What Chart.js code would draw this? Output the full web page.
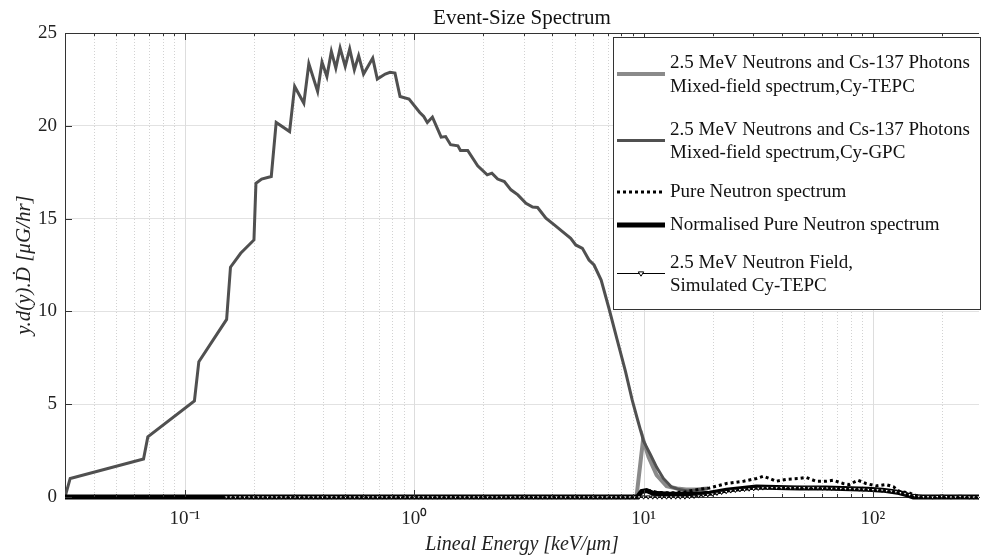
<!DOCTYPE html>
<html>
<head>
<meta charset="utf-8">
<script src="https://cdn.jsdelivr.net/npm/chart.js@4.4.1/dist/chart.umd.min.js"></script>
<style>
  html, body { margin: 0; padding: 0; background: #fff; }
  #wrap { width: 984px; height: 560px; }
</style>
</head>
<body>
<div id="wrap"><canvas id="spectrum"></canvas></div>
<script>
// values: lineal energy in keV/um, y.d(y).D in uG/hr

// mixed field, Cy-GPC (dark grey)
const gpcE = [0.03, 0.0316, 0.066, 0.0689, 0.110, 0.115, 0.152, 0.158, 0.175, 0.200,
  0.204, 0.216, 0.238, 0.250, 0.286, 0.301, 0.330, 0.347, 0.379, 0.396,
  0.416, 0.435, 0.455, 0.475, 0.500, 0.523, 0.548, 0.572, 0.601, 0.659,
  0.690, 0.747, 0.784, 0.824, 0.867, 0.949, 1.057, 1.10, 1.14, 1.20,
  1.31, 1.37, 1.44, 1.55, 1.59, 1.71, 1.89, 2.08, 2.18, 2.31,
  2.47, 2.64, 2.83, 3.07, 3.28, 3.45, 3.75, 4.08, 4.43, 4.81,
  5.06, 5.41, 5.78, 6.08, 6.53, 7.06, 7.67, 8.34, 8.92, 9.38,
  10.0, 10.7, 11.4, 12.2, 13.2, 14.3, 15.5, 17.0, 19.0];
const gpcY = [0, 1.0, 2.05, 3.24, 5.18, 7.29, 9.57, 12.38, 13.13, 13.85,
  16.9, 17.13, 17.27, 20.18, 19.69, 22.12, 21.22, 23.34, 21.85, 23.43,
  22.66, 24.01, 23.11, 24.19, 23.20, 24.14, 23.02, 23.78, 22.79, 23.65,
  22.52, 22.79, 22.88, 22.84, 21.58, 21.44, 20.72, 20.5, 20.18, 20.47,
  19.39, 19.42, 18.98, 18.92, 18.67, 18.67, 17.84, 17.36, 17.45, 17.13,
  17.0, 16.55, 16.28, 15.83, 15.62, 15.6, 15.02, 14.66, 14.3, 13.94,
  13.58, 13.40, 12.77, 12.5, 11.69, 10.17, 8.46, 6.75, 5.22, 4.23,
  3.0, 2.3, 1.6, 1.0, 0.55, 0.40, 0.33, 0.38, 0.46];

// mixed field, Cy-TEPC (light grey)
const tepcE = [9.0, 9.31, 9.95, 10.5, 11.4, 12.6, 14.0, 15.3, 17.0, 19.0];
const tepcY = [0, 0, 3.1, 2.16, 1.18, 0.58, 0.46, 0.40, 0.40, 0.46];

// pure neutron spectrum (dotted)
const pureE = [9.0, 9.5, 9.8, 10.5, 11.5, 13.0, 15.0, 16.6, 19.4, 23.0,
  27.3, 31.1, 33.3, 35.4, 37.9, 41.9, 47.7, 51.2, 56.5, 62.5,
  67.0, 74.1, 78.7, 86.1, 93.2, 103, 114, 123, 130, 143,
  154, 170, 290];
const pureY = [0, 0, 0.3, 0.35, 0.25, 0.22, 0.26, 0.37, 0.49, 0.73,
  0.85, 1.0, 1.12, 1.0, 0.85, 0.95, 1.0, 1.05, 0.85, 0.85,
  0.9, 0.73, 0.67, 0.9, 0.73, 0.6, 0.67, 0.55, 0.31, 0.23,
  0.08, 0, 0];

// normalised pure neutron spectrum (thick black)
const normE = [0.03, 9.4, 9.8, 10.3, 11.0, 13.0, 16.6, 19.4, 23.0, 31.0,
  42.0, 48.0, 62.0, 80.0, 95.0, 110, 130, 140, 150, 290];
const normY = [0, 0, 0.3, 0.35, 0.2, 0.15, 0.15, 0.2, 0.37, 0.54,
  0.5, 0.49, 0.49, 0.45, 0.42, 0.37, 0.24, 0.13, 0, 0];

// simulated Cy-TEPC: 50 log bins per decade, flat at 0 below the hump
const simDecades = [0.1, 1, 10, 100];
const binMantissa = [1.000, 1.047, 1.096, 1.148, 1.202, 1.259, 1.318, 1.380, 1.445, 1.514,
  1.585, 1.660, 1.738, 1.820, 1.905, 1.995, 2.089, 2.188, 2.291, 2.399,
  2.512, 2.630, 2.754, 2.884, 3.020, 3.162, 3.311, 3.467, 3.631, 3.802,
  3.981, 4.169, 4.365, 4.571, 4.786, 5.012, 5.248, 5.495, 5.754, 6.026,
  6.310, 6.607, 6.918, 7.244, 7.586, 7.943, 8.318, 8.710, 9.120, 9.550];
const simRange = [0.15, 300];
const simHumpY = [0.02, 0.04, 0.06, 0.09, 0.12, 0.16, 0.2, 0.25, 0.29, 0.33,
  0.36, 0.39, 0.41, 0.43, 0.45, 0.47, 0.49, 0.5, 0.51, 0.5,
  0.5, 0.51, 0.5, 0.5, 0.51, 0.5, 0.49, 0.5, 0.49, 0.48,
  0.48, 0.47, 0.47, 0.46, 0.45, 0.45, 0.44, 0.43, 0.42, 0.41,
  0.4, 0.39, 0.37, 0.35, 0.32, 0.28, 0.24, 0.19, 0.13, 0.08,
  0.04, 0.02, 0.01, 0, 0.02, 0.04, 0.02, 0, 0.01, 0.03,
  0.01, 0, 0, 0];

const seriesNames = [
  ['2.5 MeV Neutrons and Cs-137 Photons', 'Mixed-field spectrum,Cy-TEPC'],
  ['2.5 MeV Neutrons and Cs-137 Photons', 'Mixed-field spectrum,Cy-GPC'],
  ['Pure Neutron spectrum'],
  ['Normalised Pure Neutron spectrum'],
  ['2.5 MeV Neutron Field,', 'Simulated Cy-TEPC']
];

const xTickVals = [0.1, 1, 10, 100];
const xTickLabels = ['10⁻¹', '10⁰', '10¹', '10²'];
const minorMult = [2, 3, 4, 5, 6, 7, 8, 9];
const gridDecades = [0.01, 0.1, 1, 10, 100];

const serif = "'Liberation Serif', 'Times New Roman', serif";

function pts(xs, ys) {
    return xs.map((x, i) => ({ x: x, y: ys[i] }));
}

const simE = [];
simDecades.forEach(d => binMantissa.forEach(m => {
    const e = d * m;
    if (e >= simRange[0] && e <= simRange[1]) simE.push(e);
}));
const humpStart = simE.length - simHumpY.length;
const simY = simE.map((e, i) => i < humpStart ? 0 : simHumpY[i - humpStart]);

const minorVals = [];
gridDecades.forEach(d => minorMult.forEach(m => minorVals.push(d * m)));

const datasets = [
    { data: pts(tepcE, tepcY), borderColor: '#8a8a8a', borderWidth: 4, order: 6 },
    { data: pts(gpcE, gpcY), borderColor: '#505050', borderWidth: 3, order: 5 },
    { data: pts(pureE, pureY), borderColor: '#000', borderWidth: 3, borderDash: [3, 3], order: 4 },
    { data: pts(normE, normY), borderColor: '#000', borderWidth: 5, order: 3 },
    { data: pts(simE, simY), borderColor: '#000', borderWidth: 1, order: 2,
      pointRadius: 2.2, pointStyle: 'triangle', rotation: 180,
      pointBackgroundColor: '#fff', pointBorderColor: '#000', pointBorderWidth: 1 }
];
datasets.forEach(ds => {
    ds.tension = 0;
    ds.fill = false;
    if (ds.pointRadius === undefined) ds.pointRadius = 0;
    ds.clip = { left: 0, top: 0, right: 0, bottom: 6 };
});

const frame = {
    id: 'frame',
    beforeDatasetsDraw(chart) {
        const { ctx, chartArea: a, scales: { x } } = chart;
        ctx.save();
        ctx.lineWidth = 1;
        ctx.strokeStyle = '#d2d2d2';
        ctx.setLineDash([1, 2]);
        minorVals.forEach(v => {
            if (v <= x.min || v >= x.max) return;
            const px = Math.round(x.getPixelForValue(v)) + 0.5;
            ctx.beginPath(); ctx.moveTo(px, a.top); ctx.lineTo(px, a.bottom); ctx.stroke();
        });
        ctx.setLineDash([]);
        ctx.strokeStyle = '#dddddd';
        xTickVals.forEach(v => {
            const px = Math.round(x.getPixelForValue(v)) + 0.5;
            ctx.beginPath(); ctx.moveTo(px, a.top); ctx.lineTo(px, a.bottom); ctx.stroke();
        });
        ctx.restore();
    },
    afterDatasetsDraw(chart) {
        const { ctx, chartArea: a, scales: { x, y } } = chart;
        ctx.save();
        ctx.strokeStyle = '#333';
        ctx.lineWidth = 1;
        ctx.beginPath();
        ctx.moveTo(a.left, a.top + 0.5); ctx.lineTo(a.right, a.top + 0.5);
        ctx.stroke();
        // inward tick marks
        const tick = (px, len) => {
            ctx.beginPath();
            ctx.moveTo(px, a.bottom); ctx.lineTo(px, a.bottom - len);
            ctx.moveTo(px, a.top); ctx.lineTo(px, a.top + len);
            ctx.stroke();
        };
        xTickVals.forEach(v => tick(Math.round(x.getPixelForValue(v)) + 0.5, 7));
        minorVals.forEach(v => {
            if (v > x.min && v < x.max) tick(Math.round(x.getPixelForValue(v)) + 0.5, 3);
        });
        y.ticks.forEach(t => {
            const py = Math.round(y.getPixelForValue(t.value)) + 0.5;
            ctx.beginPath(); ctx.moveTo(a.left, py); ctx.lineTo(a.left + 7, py); ctx.stroke();
        });
        ctx.restore();
    },
    afterDraw(chart) {
        const { ctx, chartArea: a } = chart;
        ctx.save();
        ctx.fillStyle = '#111';
        ctx.font = '21px ' + serif;
        ctx.textAlign = 'center';
        ctx.textBaseline = 'middle';
        ctx.fillText('Event-Size Spectrum', (a.left + a.right) / 2, 18);

        // legend box
        const box = { l: 613, t: 37, r: 980, b: 309 };
        ctx.fillStyle = '#fff';
        ctx.fillRect(box.l, box.t, box.r - box.l, box.b - box.t);
        ctx.strokeStyle = '#333';
        ctx.lineWidth = 1;
        ctx.strokeRect(box.l + 0.5, box.t + 0.5, box.r - box.l, box.b - box.t);

        const rowY = [[63, 87], [130, 153], [192], [225], [263, 286]];
        ctx.font = '19px ' + serif;
        ctx.textAlign = 'left';
        seriesNames.forEach((lines, i) => {
            const ds = chart.data.datasets[i];
            const ys = rowY[i];
            const sy = ys.length > 1 ? (ys[0] + ys[1]) / 2 - 1 : ys[0];
            ctx.strokeStyle = ds.borderColor;
            ctx.lineWidth = ds.borderWidth;
            ctx.setLineDash(ds.borderDash || []);
            ctx.beginPath(); ctx.moveTo(617, sy); ctx.lineTo(665, sy); ctx.stroke();
            ctx.setLineDash([]);
            if (ds.pointRadius > 0) {
                const r = ds.pointRadius + 0.5;
                ctx.fillStyle = '#fff';
                ctx.strokeStyle = '#000';
                ctx.lineWidth = 1;
                ctx.beginPath();
                ctx.moveTo(641 - r, sy - r * 0.6);
                ctx.lineTo(641 + r, sy - r * 0.6);
                ctx.lineTo(641, sy + r);
                ctx.closePath();
                ctx.fill(); ctx.stroke();
            }
            ctx.fillStyle = '#111';
            lines.forEach((txt, j) => ctx.fillText(txt, 670, ys[j]));
        });
        ctx.restore();
    }
};

new Chart(document.getElementById('spectrum'), {
    type: 'line',
    data: { datasets: datasets },
    options: {
        responsive: true,
        maintainAspectRatio: false,
        animation: false,
        layout: { padding: { top: 33, right: 0, left: 0, bottom: 0 } },
        plugins: { legend: { display: false }, tooltip: { enabled: false } },
        scales: {
            x: {
                type: 'logarithmic',
                min: 0.03,
                max: 290,
                afterBuildTicks: s => { s.ticks = xTickVals.map(v => ({ value: v })); },
                afterFit: s => { s.height = 63; },
                ticks: {
                    callback: v => { const k = xTickVals.indexOf(v); return k < 0 ? '' : xTickLabels[k]; },
                    font: { family: serif, size: 19 },
                    color: '#222',
                    padding: 11,
                    maxRotation: 0,
                    autoSkip: false
                },
                grid: { drawOnChartArea: false, drawTicks: false },
                border: { color: '#333', width: 1 },
                title: {
                    display: true,
                    text: 'Lineal Energy [keV/μm]',
                    font: { family: serif, size: 20, style: 'italic' },
                    color: '#222',
                    padding: { top: 0, bottom: 3 }
                }
            },
            y: {
                min: 0,
                max: 25,
                afterFit: s => { s.width = 65; },
                ticks: {
                    stepSize: 5,
                    font: { family: serif, size: 19 },
                    color: '#222',
                    padding: 8
                },
                grid: { color: '#e2e2e2', drawTicks: false },
                border: { color: '#333', width: 1 },
                title: {
                    display: true,
                    text: 'y.d(y).Ḋ [μG/hr]',
                    font: { family: serif, size: 21, style: 'italic' },
                    color: '#222',
                    padding: { top: 12, bottom: 0 }
                }
            }
        }
    },
    plugins: [frame]
});
</script>
</body>
</html>
